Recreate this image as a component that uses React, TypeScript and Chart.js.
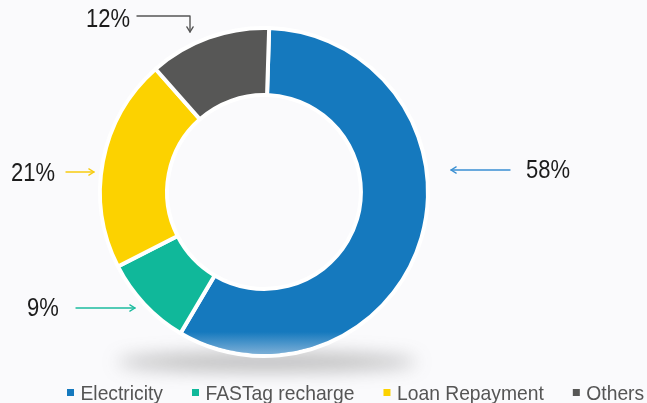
import React, { useEffect, useRef } from "react";
import { Chart, registerables } from "chart.js";

Chart.register(...registerables);

const categories = ["Electricity", "FASTag recharge", "Loan Repayment", "Others"];
const shares = [58, 9, 21, 12];
const sliceColors = ["#1579be", "#10b89a", "#fcd200", "#575756"];
const arrowColors = ["#3a8fd2", "#1cbc9e", "#f7cc10", "#555555"];
const percentLabels = shares.map((v) => `${v}%`);

// callout layout (text anchor + arrow path), by slice index
const callouts = [
  { tx: 526, ty: 178, path: [[510, 170], [451, 170]] },
  { tx: 27, ty: 316, path: [[76, 308], [135, 308]] },
  { tx: 11, ty: 181, path: [[66, 172], [94, 172]] },
  { tx: 86, ty: 27, path: [[137, 16], [190, 16], [190, 32]] },
];

const FONT = '"Liberation Sans", Arial, Helvetica, sans-serif';

const bgPlugin = {
  id: "bg",
  beforeDraw(chart: any) {
    const { ctx, width, height } = chart;
    ctx.save();
    ctx.fillStyle = "#fafafc";
    ctx.fillRect(0, 0, width, height);
    ctx.restore();
  },
};

const shadowPlugin = {
  id: "shadow",
  beforeDatasetsDraw(chart: any) {
    const arc = chart.getDatasetMeta(0).data[0];
    if (!arc) return;
    const { ctx } = chart;
    const cx = arc.x;
    const bottom = arc.y + arc.outerRadius;
    ctx.save();
    ctx.filter = "blur(9px)";
    ctx.fillStyle = "rgba(80,80,80,0.38)";
    ctx.beginPath();
    ctx.ellipse(cx + 3, bottom + 6, 150, 9, 0, 0, Math.PI * 2);
    ctx.fill();
    ctx.restore();
  },
  afterDatasetsDraw(chart: any) {
    const arc = chart.getDatasetMeta(0).data[0];
    if (!arc) return;
    const { ctx } = chart;
    const cx = arc.x;
    const cy = arc.y;
    const R = arc.outerRadius - 2;
    ctx.save();
    ctx.beginPath();
    ctx.arc(cx, cy, R, 0, Math.PI * 2);
    ctx.clip();
    const g = ctx.createLinearGradient(0, cy + R - 22, 0, cy + R);
    g.addColorStop(0, "rgba(210,220,235,0)");
    g.addColorStop(1, "rgba(210,220,235,0.55)");
    ctx.fillStyle = g;
    ctx.fillRect(cx - R, cy + R - 22, 2 * R, 22);
    ctx.restore();
  },
};

function drawHead(ctx: any, from: number[], to: number[]) {
  const ang = Math.atan2(to[1] - from[1], to[0] - from[0]);
  const len = 6;
  const spread = 0.55;
  ctx.beginPath();
  ctx.moveTo(to[0] - len * Math.cos(ang - spread), to[1] - len * Math.sin(ang - spread));
  ctx.lineTo(to[0], to[1]);
  ctx.lineTo(to[0] - len * Math.cos(ang + spread), to[1] - len * Math.sin(ang + spread));
  ctx.stroke();
}

const calloutPlugin = {
  id: "callouts",
  afterDraw(chart: any) {
    const { ctx } = chart;
    const data = chart.data;
    ctx.save();
    callouts.forEach((c, i) => {
      ctx.strokeStyle = arrowColors[i];
      ctx.lineWidth = 1.4;
      ctx.lineCap = "round";
      ctx.lineJoin = "round";
      ctx.beginPath();
      c.path.forEach((p, k) => (k === 0 ? ctx.moveTo(p[0], p[1]) : ctx.lineTo(p[0], p[1])));
      ctx.stroke();
      const n = c.path.length;
      drawHead(ctx, c.path[n - 2], c.path[n - 1]);
      ctx.save();
      ctx.translate(c.tx, c.ty);
      ctx.scale(1, 1.15);
      ctx.fillStyle = "#1c1c1c";
      ctx.font = `22px ${FONT}`;
      ctx.textBaseline = "alphabetic";
      ctx.textAlign = "left";
      ctx.fillText(percentLabels[i], 0, 0);
      ctx.restore();
    });

    // legend
    let x = 67;
    const baseline = 400;
    ctx.font = `19.3px ${FONT}`;
    ctx.textBaseline = "alphabetic";
    (data.labels as string[]).forEach((label, i) => {
      ctx.fillStyle = sliceColors[i];
      ctx.fillRect(x, 389, 7, 7);
      ctx.save();
      ctx.translate(x + 13.5, baseline);
      ctx.scale(1, 1.05);
      ctx.fillStyle = "#555555";
      ctx.fillText(label, 0, 0);
      ctx.restore();
      x += 13.5 + ctx.measureText(label).width + 29;
    });
    ctx.restore();
  },
};

export default function App() {
  const ref = useRef<HTMLCanvasElement | null>(null);

  useEffect(() => {
    document.body.style.margin = "0";
    if (!ref.current) return;
    const chart = new Chart(ref.current, {
      type: "doughnut",
      data: {
        labels: categories,
        datasets: [
          {
            data: shares,
            backgroundColor: sliceColors,
            borderColor: "#ffffff",
            borderWidth: 4,
            radius: 164,
            cutout: "59.1%",
            hoverOffset: 0,
          } as any,
        ],
      },
      options: {
        responsive: false,
        animation: false,
        devicePixelRatio: 1,
        rotation: 1.8,
        layout: { padding: { left: 0, top: 0, right: 119, bottom: 19 } },
        plugins: {
          legend: { display: false },
          tooltip: { enabled: false },
        },
        events: [],
      } as any,
      plugins: [bgPlugin, shadowPlugin, calloutPlugin],
    });
    return () => chart.destroy();
  }, []);

  return (
    <div style={{ position: "absolute", left: 0, top: 0, width: 647, height: 403 }}>
      <canvas ref={ref} width={647} height={403} style={{ width: 647, height: 403 }} />
    </div>
  );
}
